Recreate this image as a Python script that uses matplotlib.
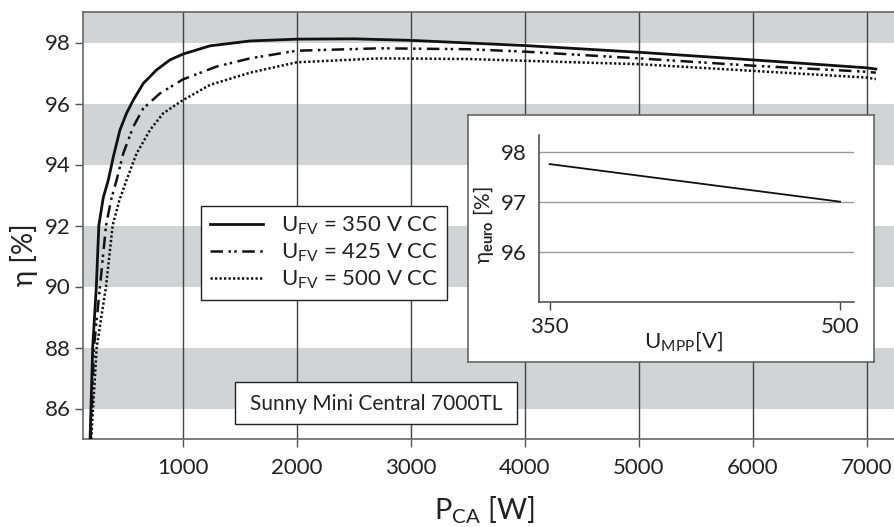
import matplotlib
matplotlib.use("Agg")
import matplotlib.pyplot as plt
from matplotlib.patches import Rectangle

plt.rcParams['font.family'] = ['Lato', 'DejaVu Sans']
plt.rcParams['mathtext.fontset'] = 'custom'
plt.rcParams['mathtext.rm'] = 'Lato'
plt.rcParams['mathtext.bf'] = 'Lato:bold'

# ---- data ----
p_350 = [185, 208, 240, 262, 300, 345, 389, 447, 505, 564, 652, 768, 886, 1000, 1237, 1588, 1997, 2500, 3000, 4000, 5000, 6000, 7000, 7080]
eta_350 = [85.0, 88.0, 90.0, 92.0, 92.9, 93.49, 94.25, 95.13, 95.68, 96.11, 96.66, 97.10, 97.43, 97.62, 97.89, 98.05, 98.11, 98.12, 98.07, 97.90, 97.68, 97.43, 97.17, 97.13]

p_425 = [190, 219, 272, 325, 370, 418, 476, 564, 652, 798, 1000, 1295, 1588, 1997, 2728, 3500, 4000, 5000, 6000, 7000, 7080]
eta_425 = [85.0, 88.0, 90.0, 92.0, 92.85, 93.49, 94.36, 95.24, 95.84, 96.33, 96.79, 97.21, 97.48, 97.73, 97.81, 97.78, 97.70, 97.48, 97.24, 97.04, 97.01]

p_500 = [195, 243, 325, 383, 440, 505, 593, 711, 827, 1000, 1237, 1588, 1997, 2728, 3500, 4000, 5000, 6000, 7000, 7080]
eta_500 = [85.0, 88.0, 90.0, 92.0, 92.8, 93.49, 94.36, 95.13, 95.68, 96.11, 96.61, 97.01, 97.35, 97.48, 97.46, 97.40, 97.29, 97.07, 96.85, 96.80]

labels = ['U$_{\\mathregular{FV}}$ = 350 V CC', 'U$_{\\mathregular{FV}}$ = 425 V CC', 'U$_{\\mathregular{FV}}$ = 500 V CC']

x_ticks = [1000, 2000, 3000, 4000, 5000, 6000, 7000]
y_ticks = [86, 88, 90, 92, 94, 96, 98]
bands = [(86, 88), (90, 92), (94, 96), (98, 99)]

u_mpp = [350, 500]
eta_euro = [97.75, 97.0]
inset_yticks = [96, 97, 98]

W, H = 895, 527
fig = plt.figure(figsize=(W / 100, H / 100), dpi=100)

def fx(px):
    return px / W

def fy(py):
    return 1 - py / H

ax = fig.add_axes([fx(83), fy(439), fx(895 - 83), (439 - 12) / H])
ax.set_xlim(123, 7248)
ax.set_ylim(85, 99)

for lo, hi in bands:
    ax.axhspan(lo, hi, color='#d1d3d4', lw=0, zorder=0)
for xt in x_ticks:
    ax.axvline(xt, color='#444444', lw=1.0, zorder=1)

ln_col = '#111111'
ax.plot(p_350, eta_350, color=ln_col, lw=2.0, ls='-', label=labels[0], zorder=3)
ax.plot(p_425, eta_425, color=ln_col, lw=1.8, ls=(0, (5, 2.2, 1, 1.3, 1, 2.2)), label=labels[1], zorder=3)
ax.plot(p_500, eta_500, color=ln_col, lw=1.8, ls=(0, (0.9, 0.9)), label=labels[2], zorder=3)

ax.set_xticks(x_ticks)
ax.set_yticks(y_ticks)
ax.tick_params(axis='both', labelsize=16, length=6, width=1, color='#555555', labelcolor='#222222')
ax.tick_params(axis='x', pad=8)
ax.tick_params(axis='y', pad=3)
for s in ['left', 'bottom', 'top']:
    ax.spines[s].set_color('#666666')
    ax.spines[s].set_linewidth(1.2)
ax.spines['right'].set_visible(False)

leg = ax.legend(loc='upper left', bbox_to_anchor=(fx(200.7), fy(205.7)), bbox_transform=fig.transFigure,
                borderaxespad=0, fontsize=16, frameon=True, fancybox=False, handlelength=2.4,
                handletextpad=0.8, labelspacing=0.2, borderpad=0.4)
leg.get_frame().set_edgecolor('#222222')
leg.get_frame().set_linewidth(1.0)
leg.get_frame().set_alpha(1)
for t in leg.get_texts():
    t.set_color('#222222')

fig.text(fx(24), fy(255), 'η [%]', rotation=90, fontsize=20, ha='center', va='center', color='#222222')
fig.text(fx(484), fy(510), 'P$_{\\mathregular{CA}}$ [W]', fontsize=21, ha='center', va='center', color='#222222')

# Sunny box
fig.patches.append(Rectangle((fx(235), fy(424)), fx(517 - 235), (424 - 382) / H, transform=fig.transFigure,
                             facecolor='white', edgecolor='#222222', lw=1.0, zorder=5))
fig.text(fx(376), fy(403.5), 'Sunny Mini Central 7000TL', fontsize=15, ha='center', va='center', color='#222222', zorder=6)

# inset frame
box = fig.add_axes([fx(468), fy(362), fx(874 - 468), (362 - 115) / H])
box.set_xticks([])
box.set_yticks([])
for s in box.spines.values():
    s.set_color('#666666')
    s.set_linewidth(1.2)
box.set_facecolor('white')

ins = fig.add_axes([fx(539), fy(302), fx(854 - 539), (302 - 135) / H])
ins.set_facecolor('none')
ins.set_xlim(344.5, 507.2)
ins.set_ylim(95, 98.33)
for yt in inset_yticks:
    ins.axhline(yt, color='#9a9a9a', lw=1.0, zorder=1)
ins.plot(u_mpp, eta_euro, color=ln_col, lw=1.3, zorder=3)
ins.set_xticks(u_mpp)
ins.set_yticks(inset_yticks)
ins.tick_params(axis='x', labelsize=16, length=6, width=1, color='#444444', pad=5, labelcolor='#222222')
ins.tick_params(axis='y', labelsize=16, length=0, pad=9, labelcolor='#222222')
for s in ['top', 'right']:
    ins.spines[s].set_visible(False)
for s in ['left', 'bottom']:
    ins.spines[s].set_color('#444444')
    ins.spines[s].set_linewidth(1.1)

fig.text(fx(484), fy(225), 'η$_{\\mathbf{euro}}$ [%]', rotation=90, fontsize=15, ha='center', va='center', color='#222222')
fig.text(fx(683), fy(342), 'U$_{\\mathregular{MPP}}$[V]', fontsize=16, ha='center', va='center', color='#222222')

fig.savefig('out.png', dpi=100)
